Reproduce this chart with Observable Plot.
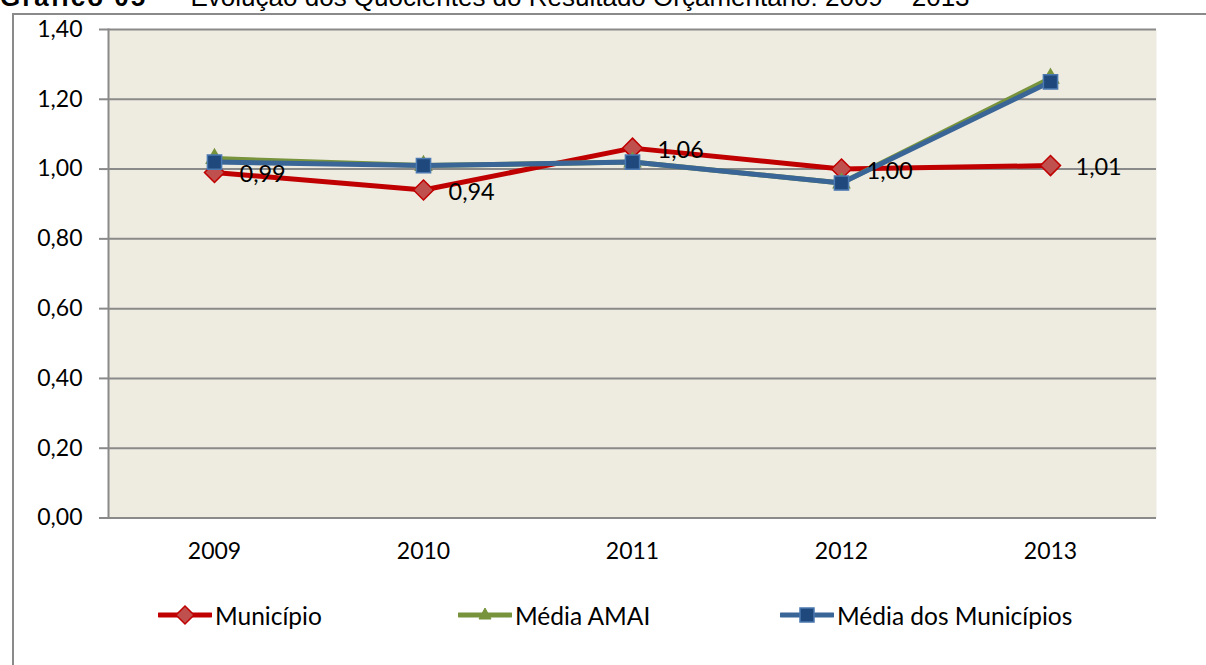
<!DOCTYPE html>
<html>
<head>
<meta charset="utf-8">
<script src="https://cdn.jsdelivr.net/npm/d3@7"></script>
<script src="https://cdn.jsdelivr.net/npm/@observablehq/plot@0.6"></script>
<style>
  html, body { margin: 0; padding: 0; background: #fff; overflow: hidden; }
  #wrap { position: relative; width: 1206px; height: 665px; overflow: hidden; }
  #title { position: absolute; left: 0; top: -16px; font-family: Arial, "Liberation Sans", sans-serif; font-size: 26px; line-height: 26px; color: #000; white-space: pre; }
  #title b { letter-spacing: 2px; }
  #frame { position: absolute; left: 12px; top: 13px; width: 1300px; height: 700px; border-left: 2px solid #8a8a8a; border-top: 2px solid #8a8a8a; }
  #chart { position: absolute; left: 0; top: 0; }
  #legend { position: absolute; left: 0; top: 0; font-family: Lato, sans-serif; font-size: 24.5px; color: #000; }
  .item { position: absolute; top: 600px; height: 30px; display: flex; align-items: center; white-space: nowrap; }
  .item svg { margin-right: 3px; }
</style>
</head>
<body>
<div id="wrap">
  <div id="title"><b>Gráfico 05</b>  –  Evolução dos Quocientes do Resultado Orçamentário: 2009 – 2013</div>
  <div id="frame"></div>
  <div id="chart"></div>
  <div id="legend"></div>
</div>
<script>
const years = ["2009", "2010", "2011", "2012", "2013"];
const municipio = [0.99, 0.94, 1.06, 1.00, 1.01];
const mediaAMAI = [1.03, 1.01, 1.02, 0.96, 1.26];
const mediaMunicipios = [1.02, 1.01, 1.02, 0.96, 1.25];
const yTicks = [0, 0.2, 0.4, 0.6, 0.8, 1.0, 1.2, 1.4];
const seriesNames = ["Município", "Média AMAI", "Média dos Municípios"];

const fmt = v => v.toFixed(2).replace(".", ",");
const rows = (vals, name) => years.map((y, i) => ({year: y, value: vals[i], series: name}));
const dMun = rows(municipio, seriesNames[0]);
const dAmai = rows(mediaAMAI, seriesNames[1]);
const dMed = rows(mediaMunicipios, seriesNames[2]);

const red = "#C00000", redFill = "#C0504D";
const green = "#77933C";
const blue = "#3A6597", blueFill = "#1F487C", blueEdge = "#4A78B0";

const chart = Plot.plot({
  width: 1206,
  height: 665,
  marginLeft: 108,
  marginRight: 50,
  marginTop: 29,
  marginBottom: 147.5,
  style: {fontFamily: "Lato, sans-serif", fontSize: "23px", color: "#000", background: "transparent"},
  x: {type: "point", domain: years, padding: 0.5, label: null},
  y: {domain: [0, 1.4], label: null},
  marks: [
    Plot.frame({fill: "#EEEBE0", stroke: null}),
    Plot.gridY(yTicks, {stroke: "#8a8a8a", strokeWidth: 2, strokeOpacity: 1}),
    Plot.frame({anchor: "left", stroke: "#8a8a8a", strokeWidth: 2}),
    Plot.axisY(yTicks, {tickFormat: fmt, tickSize: 9, tickPadding: 17, stroke: "#8a8a8a", strokeWidth: 2, fill: "#000", label: null}),
    Plot.axisX({tickSize: 0, tickPadding: 25, fill: "#000", label: null}),
    Plot.line(dMun, {x: "year", y: "value", stroke: red, strokeWidth: 5, strokeLinejoin: "round"}),
    Plot.dot(dMun, {x: "year", y: "value", symbol: "diamond2", r: 9, fill: redFill, stroke: red, strokeWidth: 1.5}),
    Plot.line(dAmai, {x: "year", y: "value", stroke: green, strokeWidth: 5, strokeLinejoin: "round"}),
    Plot.dot(dAmai, {x: "year", y: "value", symbol: "triangle", r: 6, fill: green, stroke: green}),
    Plot.line(dMed, {x: "year", y: "value", stroke: blue, strokeWidth: 5, strokeLinejoin: "round"}),
    Plot.dot(dMed, {x: "year", y: "value", symbol: "square", r: 8, fill: blueFill, stroke: blueEdge, strokeWidth: 1.5}),
    Plot.text(dMun, {x: "year", y: "value", text: d => fmt(d.value), dx: 25, dy: 2, textAnchor: "start", fill: "#000", fontSize: 23.5})
  ]
});
document.getElementById("chart").appendChild(chart);

// Legend
const legendDefs = [
  {name: seriesNames[0], left: 158, stroke: red, sym: "diamond", fill: redFill, edge: red},
  {name: seriesNames[1], left: 458, stroke: green, sym: "triangle", fill: green, edge: green},
  {name: seriesNames[2], left: 780, stroke: blue, sym: "square", fill: blueFill, edge: blueEdge}
];
const legend = d3.select("#legend");
legendDefs.forEach(d => {
  const item = legend.append("div").attr("class", "item").style("left", d.left + "px");
  const svg = item.append("svg").attr("width", 54).attr("height", 30);
  svg.append("line").attr("x1", 1).attr("x2", 53).attr("y1", 15).attr("y2", 15)
    .attr("stroke", d.stroke).attr("stroke-width", 5).attr("stroke-linecap", "round");
  if (d.sym === "diamond") {
    svg.append("path").attr("d", "M27,6L36,15L27,24L18,15Z").attr("fill", d.fill).attr("stroke", d.edge).attr("stroke-width", 1.5);
  } else if (d.sym === "triangle") {
    svg.append("path").attr("d", "M27,8L33,19L21,19Z").attr("fill", d.fill).attr("stroke", d.edge);
  } else {
    svg.append("rect").attr("x", 20).attr("y", 8).attr("width", 14).attr("height", 14).attr("fill", d.fill).attr("stroke", d.edge).attr("stroke-width", 1.5);
  }
  item.append("span").text(d.name);
});
</script>
</body>
</html>
